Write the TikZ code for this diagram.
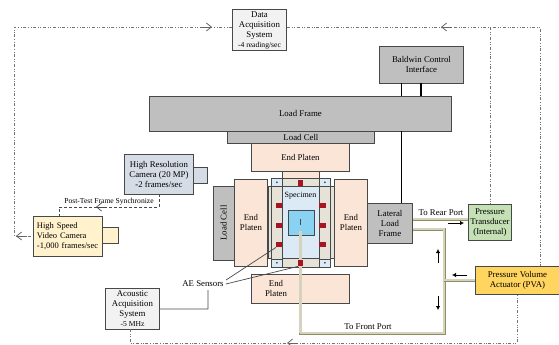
\documentclass[tikz,border=0pt]{standalone}
\usepackage{fontspec}
\setmainfont{Liberation Serif}
\usetikzlibrary{arrows.meta}
\definecolor{framegray}{HTML}{BFBFBF}
\definecolor{edgegray}{HTML}{45494A}
\definecolor{platen}{HTML}{FBE5D6}
\definecolor{band}{HTML}{E7E2D8}
\definecolor{spec}{HTML}{DCEAF5}
\definecolor{core}{HTML}{8AD2F2}
\definecolor{sensorred}{HTML}{A81522}
\definecolor{camblue}{HTML}{D6DCE5}
\definecolor{camyellow}{HTML}{FFF2CC}
\definecolor{pvayellow}{HTML}{FFD45F}
\definecolor{transgreen}{HTML}{C5E0B4}
\definecolor{tubeedge}{HTML}{8E8E62}
\definecolor{tubefill}{HTML}{D4D4BE}
\begin{document}
\begin{tikzpicture}[
  x=1pt, y=-1pt,
  box/.style={draw=edgegray, line width=0.9pt, align=center, anchor=north west, inner sep=0pt, font=\fontsize{8.8}{10}\selectfont},
  gray box/.style={box, fill=framegray},
  platen box/.style={box, fill=platen},
  sensor/.style={fill=sensorred, anchor=north west, inner sep=0pt},
  corner/.style={draw=edgegray, line width=0.6pt, fill=spec, anchor=north west, inner sep=0pt, minimum width=11pt, minimum height=8pt},
  signal/.style={dash dot dot, black!55, line width=0.9pt},
  sync/.style={densely dashed, edgegray, line width=0.7pt},
  tip/.style={-{Straight Barb[length=5pt,width=8pt]}},
  tube/.style={tubeedge, double=tubefill, double distance=1.6pt, line width=0.7pt},
  flow/.style={-{Latex[length=4pt,width=4.5pt]}, black, line width=0.9pt},
  wire/.style={edgegray, line width=0.7pt},
  label/.style={inner sep=0pt, font=\fontsize{8.8}{10}\selectfont}
]
\useasboundingbox (0,0) rectangle (559,345);
% frame and stems
\node[gray box, minimum width=84pt, minimum height=37pt] (baldwin) at (379,46) {Baldwin Control\\Interface};
\draw[black, line width=1.2pt] (401.5,83) -- (401.5,96);
\draw[black, line width=1.2pt] (421,83) -- (421,96);
\node[gray box, minimum width=302pt, minimum height=35pt] (loadframe) at (149,96) {Load Frame};
\node[gray box, minimum width=147pt, minimum height=12pt] (loadcelltop) at (227,131) {Load Cell};
\node[platen box, minimum width=98pt, minimum height=28pt] (platentop) at (251,143) {End Platen};
\node[platen box, minimum width=37pt, minimum height=96pt] (stem) at (282,171) {};
% specimen
\node[box, fill=band, line width=0.6pt, minimum width=66pt, minimum height=72pt] (bandbox) at (268,186) {};
\node[box, fill=band, line width=0.6pt, minimum width=59pt, minimum height=89pt] (cage) at (271,178) {};
\node[corner] (cornertl) at (271,178) {};
\node[corner] (cornertr) at (319,178) {};
\node[corner] (cornerbl) at (271,258.5) {};
\node[corner] (cornerbr) at (319,258.5) {};
\fill[edgegray] (cornertl.center) circle (1pt);
\fill[edgegray] (cornertr.center) circle (1pt);
\fill[edgegray] (cornerbl.center) circle (1pt);
\fill[edgegray] (cornerbr.center) circle (1pt);
\node[box, fill=spec, line width=0.6pt, minimum width=37pt, minimum height=72pt] (specimen) at (282,186) {};
\node[label, font=\fontsize{8}{9}\selectfont] (speclabel) at (300.5,196) {Specimen};
\node[box, fill=core, minimum width=26pt, minimum height=25pt] (corebox) at (288,210) {};
\draw[wire] (300.5,219) -- (300.5,225);
\node[sensor, minimum width=6pt, minimum height=5pt] (sl1) at (276,203) {};
\node[sensor, minimum width=6pt, minimum height=5pt] (sl2) at (276,222.5) {};
\node[sensor, minimum width=6pt, minimum height=5pt] (sl3) at (276,242) {};
\node[sensor, minimum width=7pt, minimum height=5pt] (sr1) at (319,203) {};
\node[sensor, minimum width=7pt, minimum height=5pt] (sr2) at (319,222.5) {};
\node[sensor, minimum width=7pt, minimum height=5pt] (sr3) at (319,242) {};
\node[sensor, minimum width=5pt, minimum height=6pt] (stop) at (298,180) {};
% platens around it
\node[platen box, minimum width=33pt, minimum height=87pt] (platenleft) at (234,179) {End\\Platen};
\node[platen box, minimum width=33pt, minimum height=87pt] (platenright) at (334,179) {End\\Platen};
\node[platen box, minimum width=98pt, minimum height=29pt] (platenbot) at (251,274) {};
\node[label, align=center] (platenbottext) at (276,288) {End\\Platen};
\node[gray box, minimum width=21pt, minimum height=74pt] (loadcellleft) at (213,186) {};
\node[label, rotate=90] (loadcelltext) at (223.5,223) {Load Cell};
\node[gray box, minimum width=45pt, minimum height=40pt] (lateral) at (367,203) {Lateral\\Load\\Frame};
\draw[black, line width=1.2pt] (401.5,131) -- (401.5,203);
% instruments
\node[box, fill=gray!10, minimum width=54pt, minimum height=41pt] (daq) at (232,9) {Data\\Acquisition\\System\\{\fontsize{7.6}{8.4}\selectfont -4 reading/sec}};
\node[box, fill=camblue, minimum width=14pt, minimum height=16pt] (hrlens) at (193,167) {};
\node[box, fill=camblue, minimum width=69pt, minimum height=40pt] (hrcam) at (124,154) {High Resolution\\Camera (20 MP)\\-2 frames/sec};
\node[box, fill=camyellow, minimum width=16pt, minimum height=16pt] (hslens) at (102,227) {};
\node[box, fill=camyellow, minimum width=69pt, minimum height=40pt, text width=62pt, align=left, font=\fontsize{8.5}{10}\selectfont] (hscam) at (33,216) {High Speed\\Video Camera\\-1,000 frames/sec};
\node[box, fill=gray!10, minimum width=54pt, minimum height=41pt] (acoustic) at (105,288) {Acoustic\\Acquisition\\System\\{\fontsize{7.6}{8.4}\selectfont -5 MHz}};
\node[box, fill=transgreen, minimum width=43pt, minimum height=36pt] (transducer) at (468,204) {Pressure\\Transducer\\(Internal)};
\node[box, fill=pvayellow, minimum width=84pt, minimum height=28pt] (pva) at (475,266) {Pressure Volume\\Actuator (PVA)};
% signal lines
\coordinate (cornerleft) at (14,27);
\coordinate (cornerright) at (540,27);
\coordinate (branch) at (490,27);
\coordinate (leftdrop) at (14,236);
\draw[signal] (daq.west |- cornerleft) -- (cornerleft) -- (leftdrop) -- (hscam.west |- leftdrop);
\draw[signal] (daq.east |- cornerleft) -- (cornerright) -- (cornerright |- pva.north);
\draw[signal] (branch) -- (branch |- transducer.north);
\draw[signal] (130,329) -- (130,343) -- (517,343) -- (517,294);
\draw[black!60, line width=0.8pt, tip] (200,27) -- (212,27);
\draw[black!60, line width=0.8pt, tip] (452,27) -- (441,27);
\draw[black!60, line width=0.8pt, tip] (27,236) -- (16,236);
\draw[black!60, line width=0.8pt, tip] (298,343) -- (287,343);
% camera sync
\draw[sync] (159,194) -- (159,207) -- (59,207) -- (59,216);
\draw[edgegray, line width=0.7pt, tip] (104,207) -- (96,207);
\node[label, font=\fontsize{7.6}{8.4}\selectfont] (synclabel) at (109,202) {Post-Test Frame Synchronize};
% tubing
\coordinate (frontport) at (300.5,231);
\coordinate (frontlow) at (300.5,333);
\coordinate (frontright) at (444,333);
\coordinate (frontup) at (444,229);
\coordinate (tee) at (444,280);
\draw[tube] (lateral.east |- frontup) -- (frontup) -- (frontright) -- (frontlow) -- (frontport);
\draw[tube, double distance=2.4pt] (frontlow) -- (frontport);
\draw[tube] (pva.west |- tee) -- (tee);
\draw[tube] (lateral.east |- 0,219) -- (transducer.west |- 0,219);
\node[sensor, minimum width=5pt, minimum height=6pt] (sbot) at (298,260) {};
\draw[flow] (448,223) -- (464,223);
\draw[flow] (438,263) -- (438,249);
\draw[flow] (438,296) -- (438,310);
\draw[flow] (467,275) -- (452,275);
\node[label] (rearlabel) at (441,213) {To Rear Port};
\node[label] (frontlabel) at (368,327) {To Front Port};
% sensors callout
\node[label] (aelabel) at (203,284) {AE Sensors};
\draw[wire] (226,280) -- (sl3.south west);
\draw[wire] (aelabel.east) ++(2,0) -- (sbot.south west);
\draw[wire] (acoustic.east) -- (208,309) -- (208,290);
\end{tikzpicture}
\end{document}
